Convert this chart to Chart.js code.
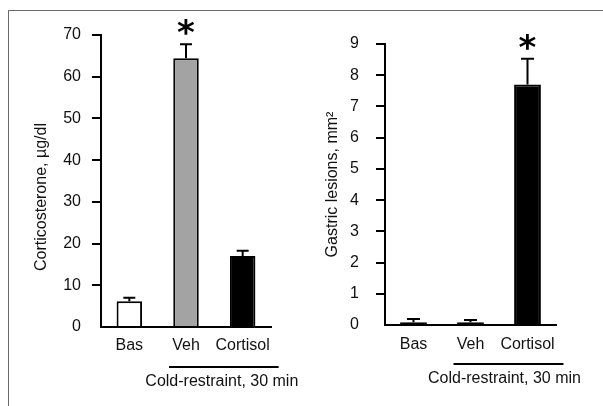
<!DOCTYPE html>
<html>
<head>
<meta charset="utf-8">
<script src="https://cdn.jsdelivr.net/npm/chart.js@4.4.1/dist/chart.umd.min.js"></script>
<style>
  html, body { margin: 0; padding: 0; background: #ffffff; }
  #page { position: relative; width: 603px; height: 406px; overflow: hidden; }
  #frame { position: absolute; left: 8px; top: 10px; width: 700px; height: 500px;
           border-left: 1px solid #6a6a6a; border-top: 1px solid #6a6a6a; }
  canvas { position: absolute; top: 0; }
  #left { left: 0; }
  #right { left: 300px; }
</style>
</head>
<body>
<div id="page">
  <div id="frame"></div>
  <canvas id="left" width="330" height="406"></canvas>
  <canvas id="right" width="303" height="406"></canvas>
</div>
<script>
// Groups shown on both panels
const categories = ['Bas', 'Veh', 'Cortisol'];

// Plasma corticosterone (µg/dl), mean and SEM
const corticosterone = [6.2, 64.4, 17.0];
const corticosteroneSem = [0.8, 3.4, 1.3];

// Gastric lesion area (mm²), mean and SEM
const lesions = [0.09, 0.09, 7.70];
const lesionsSem = [0.1, 0.07, 0.83];

// Groups marked as significantly different
const corticosteroneStars = [false, true, false];
const lesionsStars = [false, false, true];

const corticosteroneTicks = { min: 0, max: 70, step: 10 };
const lesionsTicks = { min: 0, max: 9, step: 1 };

const FONT = '"Liberation Sans", Arial, sans-serif';
const INK = '#111111';
Chart.defaults.font.family = FONT;
Chart.defaults.font.size = 16;
Chart.defaults.color = INK;

// Error bars, significance stars and the group bracket under the x axis
const annotate = {
  id: 'annotate',
  afterDatasetsDraw(chart, args, opts) {
    const { ctx } = chart;
    const y = chart.scales.y;
    const x = chart.scales.x;
    const ds = chart.data.datasets[0];
    const meta = chart.getDatasetMeta(0);
    ctx.save();
    ctx.strokeStyle = '#000';
    ctx.lineWidth = 2;
    meta.data.forEach((bar, i) => {
      const yTop = y.getPixelForValue(ds.data[i]);
      const yErr = y.getPixelForValue(ds.data[i] + opts.sem[i]);
      ctx.beginPath();
      ctx.moveTo(bar.x, yTop);
      ctx.lineTo(bar.x, yErr);
      ctx.moveTo(bar.x - opts.cap, yErr);
      ctx.lineTo(bar.x + opts.cap, yErr);
      ctx.stroke();
      if (opts.stars[i]) {
        ctx.fillStyle = '#000';
        ctx.font = 'bold 34px "DejaVu Sans", ' + FONT;
        ctx.textAlign = 'center';
        ctx.textBaseline = 'alphabetic';
        const m = ctx.measureText('*');
        const cy = yErr - 17;
        const base = cy + (m.actualBoundingBoxAscent - m.actualBoundingBoxDescent) / 2;
        ctx.fillText('*', bar.x, base);
      }
    });
    // bracket spanning the stressed groups
    const x1 = x.getPixelForValue(1) - 17;
    const x2 = x.getPixelForValue(2) + 36;
    ctx.lineWidth = 2;
    ctx.beginPath();
    ctx.moveTo(x1, opts.bracketY);
    ctx.lineTo(x2, opts.bracketY);
    ctx.stroke();
    ctx.fillStyle = INK;
    ctx.font = '16px ' + FONT;
    ctx.textAlign = 'center';
    ctx.textBaseline = 'middle';
    ctx.fillText('Cold-restraint, 30 min', (x1 + x2) / 2 + opts.textShift, opts.textY);
    ctx.restore();
  }
};

function panel(canvasId, cfg) {
  return new Chart(document.getElementById(canvasId), {
    type: 'bar',
    data: {
      labels: categories,
      datasets: [{
        data: cfg.values,
        backgroundColor: cfg.fills,
        borderColor: '#000',
        borderWidth: 2,
        borderSkipped: 'bottom',
        barPercentage: cfg.barPct,
        categoryPercentage: 1
      }]
    },
    options: {
      responsive: false,
      animation: false,
      events: [],
      layout: { padding: cfg.padding },
      plugins: {
        legend: { display: false },
        tooltip: { enabled: false },
        annotate: {
          sem: cfg.sem, stars: cfg.stars, cap: cfg.cap,
          bracketY: cfg.bracketY, textY: cfg.textY, textShift: cfg.textShift
        }
      },
      scales: {
        x: {
          grid: { display: false, drawTicks: false },
          border: { display: true, color: '#000', width: 2 },
          ticks: {
            padding: cfg.xPad, color: INK, font: { size: 16 },
            autoSkip: false, maxRotation: 0, minRotation: 0
          },
          afterFit(scale) { scale.height = 40; }
        },
        y: {
          min: cfg.ticks.min,
          max: cfg.ticks.max,
          grid: {
            drawOnChartArea: false,
            drawTicks: true,
            tickLength: 9,
            lineWidth: 2,
            color: (c) => (c.tick && c.tick.value === 0 ? 'rgba(0,0,0,0)' : '#000')
          },
          border: { display: true, color: '#000', width: 2 },
          ticks: { stepSize: cfg.ticks.step, padding: cfg.yPad, color: INK, font: { size: 16 } },
          title: {
            display: true,
            text: cfg.title,
            color: INK,
            font: { size: 16 },
            padding: { top: cfg.titlePad, bottom: 0 }
          },
          afterFit(scale) { scale.width = cfg.yWidth; }
        }
      }
    },
    plugins: [annotate]
  });
}

panel('left', {
  values: corticosterone,
  sem: corticosteroneSem,
  stars: corticosteroneStars,
  fills: ['#ffffff', '#a3a3a3', '#000000'],
  ticks: corticosteroneTicks,
  title: 'Corticosterone, µg/dl\u2002\u2002\u2002\u2002',
  barPct: 0.45,
  cap: 6,
  padding: { left: 0, top: 35, right: 59, bottom: 39 },
  yWidth: 101,
  yPad: 11,
  xPad: 9,
  titlePad: 32,
  bracketY: 367,
  textY: 382,
  textShift: -2
});

panel('right', {
  values: lesions,
  sem: lesionsSem,
  stars: lesionsStars,
  fills: ['#000000', '#000000', '#000000'],
  ticks: lesionsTicks,
  title: 'Gastric lesions, mm²',
  barPct: 0.47,
  cap: 6.5,
  padding: { left: 0, top: 44, right: 47, bottom: 41 },
  yWidth: 85,
  yPad: 17,
  xPad: 10,
  titlePad: 23,
  bracketY: 364,
  textY: 379,
  textShift: -4
});
</script>
</body>
</html>
